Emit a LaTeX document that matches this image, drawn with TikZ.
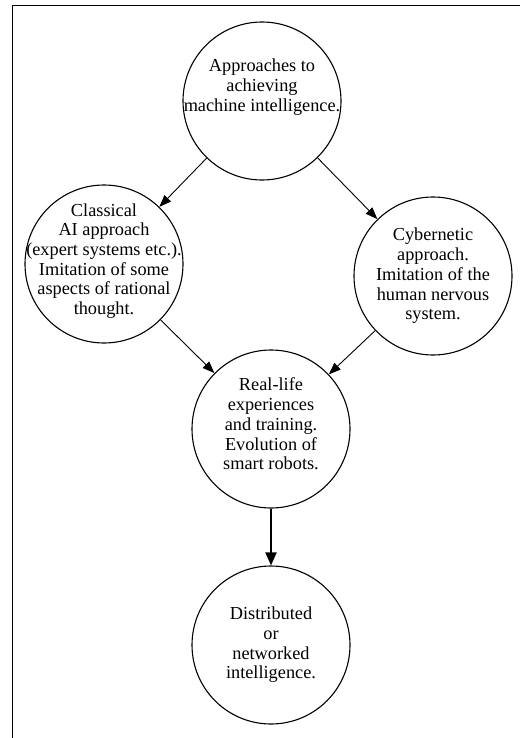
\documentclass[tikz,border=0pt]{standalone}
\usepackage{fontspec}
\setmainfont{Liberation Serif}
\usetikzlibrary{arrows.meta,positioning}

\begin{document}
\begin{tikzpicture}[x=1bp, y=1bp,
        stage/.style={circle, draw, line width=1.1bp, minimum size=158bp, inner sep=0pt},
        blurb/.style={align=center, inner sep=0pt, font=\fontsize{18.3bp}{19.7bp}\selectfont},
        arrow/.style={-{Triangle[length=12bp, width=9bp]}, line width=0.9bp},
        mainarrow/.style={-{Triangle[length=13bp, width=11bp]}, line width=1.8bp},
    ]
        \useasboundingbox (0,0) rectangle (520,-738);
        % Frame, cut off at the right and at the bottom
        \draw[line width=0.9bp] (12.5,-738) -- (12.5,-5.5) -- (520,-5.5);

        % Circles
        \node[stage] (goal) at (262,-101) {};
        \node[stage] (classic) at (104,-264) {};
        \node[stage] (cyber) at (433,-276) {};
        \node[stage] (training) at (271,-429) {};
        \node[stage] (network) at (271,-645) {};

        % Texts inside the circles
        \node[blurb] (goaltext) at ([yshift=14bp]goal.center) {Approaches to\\achieving\\machine intelligence.};
        \node[blurb] (classictext) at ([yshift=3bp]classic.center) {Classical\\AI approach\\(expert systems etc.).\\Imitation of some\\aspects of rational\\thought.};
        \node[blurb] (cybertext) at (cyber.center) {Cybernetic\\approach.\\Imitation of the\\human nervous\\system.};
        \node[blurb] (trainingtext) at ([yshift=5bp]training.center) {Real-life\\experiences\\and training.\\Evolution of\\smart robots.};
        \node[blurb] (networktext) at (network.center) {Distributed\\or\\networked\\intelligence.};

        % Arrows
        \draw[arrow] (goal) -- (classic);
        \draw[arrow] (goal) -- (cyber);
        \draw[arrow] (classic) -- (training);
        \draw[arrow] (cyber) -- (training);
        \draw[mainarrow] (training) -- (network);
    \end{tikzpicture}
\end{document}
